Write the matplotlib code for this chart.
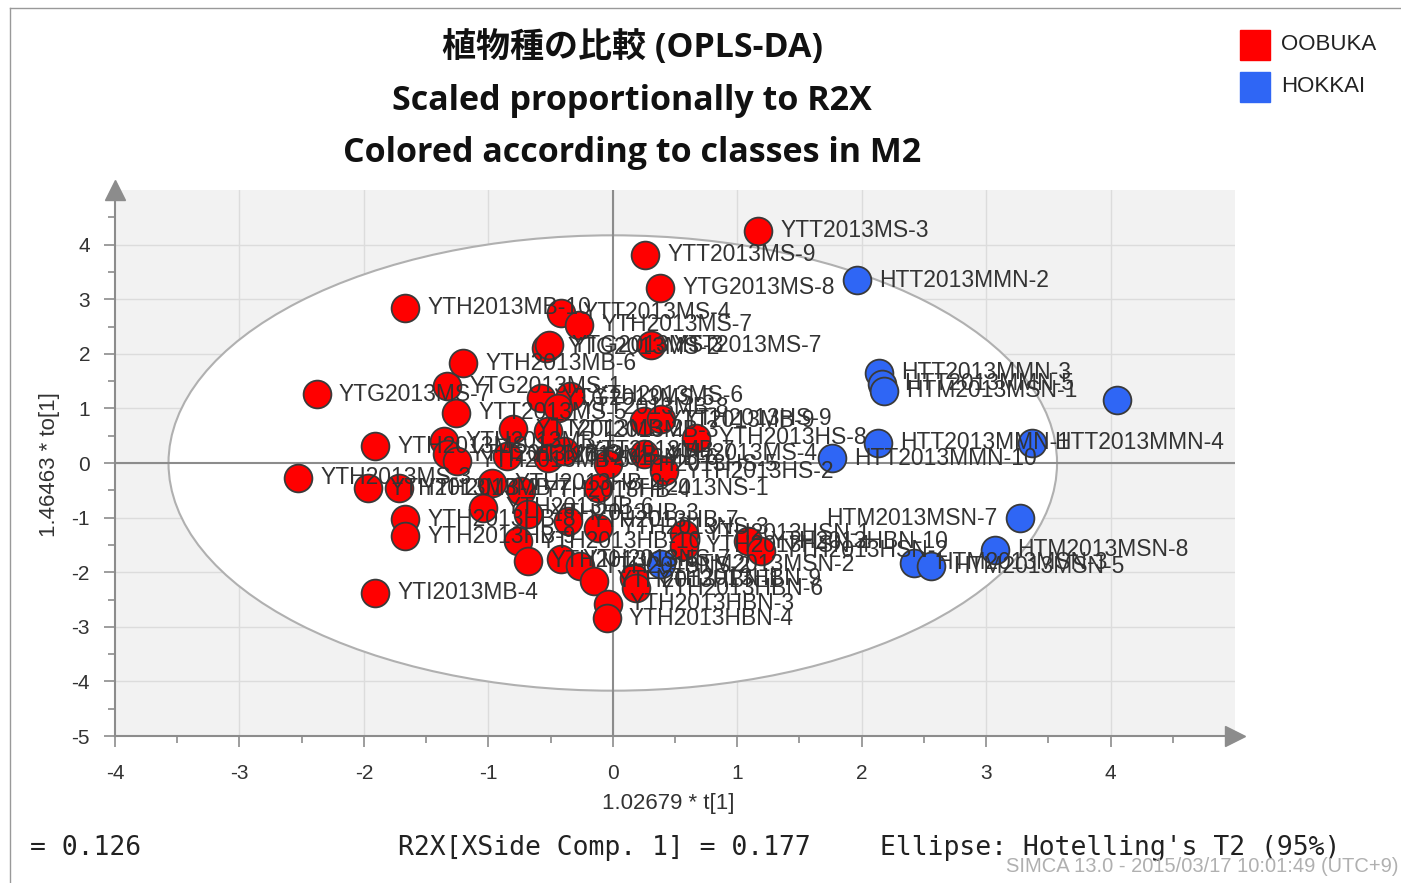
import numpy as np
import matplotlib.pyplot as plt
from matplotlib.patches import Ellipse, Rectangle

plt.rcParams['axes.unicode_minus'] = False

# OOBUKA (red) scores
oobuka_t = [1.17, 0.26, 0.38, -1.67, -0.42, -0.27, -0.54, -0.51, 0.31, -1.20,
            -2.38, -1.33, -0.58, -0.34, -0.44, -1.26, -0.80, -0.52, 0.25, 0.39,
            0.67, -1.91, -1.36, -1.33, -1.25, -0.85, -0.52, -0.39, 0.25, -0.04,
            0.41, -2.53, -1.97, -1.72, -0.97, -0.74, -0.12, -1.04, -1.67, -1.67,
            -0.68, -0.36, -0.12, -0.76, 0.57, 0.57, 1.09, 1.19, -0.68, -0.42,
            -0.26, -0.15, 0.17, 0.19, -1.91, -0.04, -0.05]
oobuka_to = [4.25, 3.81, 3.21, 2.84, 2.75, 2.53, 2.11, 2.16, 2.16, 1.83,
             1.26, 1.41, 1.19, 1.23, 1.01, 0.92, 0.62, 0.59, 0.77, 0.81,
             0.46, 0.31, 0.40, 0.16, 0.04, 0.13, 0.09, 0.22, 0.17, -0.02,
             -0.15, -0.27, -0.46, -0.46, -0.37, -0.51, -0.46, -0.82, -1.03, -1.34,
             -0.93, -1.06, -1.19, -1.43, -1.30, -1.52, -1.43, -1.61, -1.79, -1.76,
             -1.89, -2.16, -2.11, -2.29, -2.38, -2.58, -2.84]
oobuka_names = ['YTT2013MS-3', 'YTT2013MS-9', 'YTG2013MS-8', 'YTH2013MB-10', 'YTT2013MS-4',
                'YTH2013MS-7', 'YTG2013MS-2', 'YTG2013MS-3', 'YTT2013MS-7', 'YTH2013MB-6',
                'YTG2013MS-7', 'YTG2013MS-1', 'YTG2013MS-5', 'YTH2013MS-6', 'YTT2013MB-8',
                'YTT2013MS-5', 'YTT2013MB-2', 'YTT2013MB-3', 'YTT2013MB-9', 'YTH2013HS-9',
                'YTH2013HS-8', 'YTH2013MS-1', 'YTH2013MB-1', 'YTH2013MB-3', 'YTH2013MB-5',
                'YTT2013MB-4', 'YTT2013MB-6', 'YTT2013MB-7', 'YTH2013MS-4', 'YTH2013HS-5',
                'YTH2013HS-2', 'YTH2013MS-3', 'YTH2013MB-2', 'YTH2013MB-7', 'YTH2013HB-2',
                'YTH2013HB-4', 'YTH2013NS-1', 'YTH2013HB-6', 'YTH2013HB-8', 'YTH2013HB-9',
                'YTH2013HB-3', 'YTH2013HB-7', 'YTH2013NS-3', 'YTH2013HB-10', 'YTH2013HSN-1',
                'YTH2013HSN-4', 'YTH2013HBN-10', 'YTH2013HSN-2', 'YTH2013NS-5', 'YTH2013NS-7',
                'YTH2013NS-2', 'YTH2013HBN-1', 'YTH2013HBN-9', 'YTH2013HBN-6', 'YTI2013MB-4',
                'YTH2013HBN-3', 'YTH2013HBN-4']

# HOKKAI (blue) scores
hokkai_t = [1.96, 2.14, 2.16, 2.18, 4.05, 2.13, 3.37, 1.76, 3.27, 3.07, 2.42, 2.56, 0.39]
hokkai_to = [3.35, 1.65, 1.45, 1.32, 1.15, 0.37, 0.37, 0.09, -1.01, -1.59, -1.83, -1.89, -1.85]
hokkai_names = ['HTT2013MMN-2', 'HTT2013MMN-3', 'HTT2013MMN-5', 'HTM2013MSN-1', '',
                'HTT2013MMN-1', 'HTT2013MMN-4', 'HTT2013MMN-10', 'HTM2013MSN-7',
                'HTM2013MSN-8', 'HTM2013MSN-3', 'HTM2013MSN-5', 'HTM2013MSN-2']
left_labels = ['HTM2013MSN-7']

ellipse_a = 3.57
ellipse_b = 4.17

RED = '#ff0000'
BLUE = '#2f66f5'
TXT = '#333333'
LBL = 'Liberation Sans'

fig = plt.figure(figsize=(14.01, 8.83), dpi=100)
ax = fig.add_axes([115 / 1401, 1 - 736 / 883, 1120 / 1401, 546 / 883])
ax.set_facecolor('#f2f2f2')
ax.set_xlim(-4, 5)
ax.set_ylim(-5, 5)

ax.add_patch(Ellipse((0, 0), 2 * ellipse_a, 2 * ellipse_b, facecolor='white',
                     edgecolor='#b0b0b0', lw=1.5, zorder=1.2))
for v in range(-3, 5):
    ax.axvline(v, color='#dcdcdc', lw=1, zorder=1.1)
for v in range(-4, 5):
    ax.axhline(v, color='#dcdcdc', lw=1, zorder=1.1)
ax.axvline(0, color='#8c8c8c', lw=1.5, zorder=1.3)
ax.axhline(0, color='#8c8c8c', lw=1.5, zorder=1.3)

ax.scatter(oobuka_t, oobuka_to, s=400, c=RED, edgecolors='#3a3a3a', linewidths=1.3, zorder=3)
ax.scatter(hokkai_t, hokkai_to, s=400, c=BLUE, edgecolors='#3a3a3a', linewidths=1.3, zorder=3)

for t, to, name in list(zip(oobuka_t, oobuka_to, oobuka_names)) + list(zip(hokkai_t, hokkai_to, hokkai_names)):
    if not name:
        continue
    if name in left_labels:
        ax.annotate(name, (t, to), xytext=(-16, 0), textcoords='offset points', ha='right',
                    va='center', fontsize=16.5, family=LBL, color=TXT, zorder=4, clip_on=True)
    else:
        ax.annotate(name, (t, to), xytext=(16, 0), textcoords='offset points', ha='left',
                    va='center', fontsize=16.5, family=LBL, color=TXT, zorder=4, clip_on=True)

for s in ['top', 'right']:
    ax.spines[s].set_visible(False)
for s in ['left', 'bottom']:
    ax.spines[s].set_color('#8c8c8c')
    ax.spines[s].set_linewidth(1.5)
ax.plot([0], [1], marker='^', ms=14, color='#8c8c8c', transform=ax.transAxes, clip_on=False)
ax.plot([1], [0], marker='>', ms=14, color='#8c8c8c', transform=ax.transAxes, clip_on=False)

ax.set_xticks(np.arange(-4, 5))
ax.set_xticks(np.arange(-3.5, 5, 1), minor=True)
ax.set_yticks(np.arange(-5, 5))
ax.set_yticks(np.arange(-4.5, 5, 1), minor=True)
ax.tick_params(which='major', length=8, width=1.2, color='#8c8c8c', labelsize=15,
               labelcolor=TXT, labelfontfamily=LBL)
ax.tick_params(which='minor', length=5, width=1.2, color='#8c8c8c')
ax.tick_params(axis='x', which='major', pad=12)
ax.tick_params(axis='y', which='major', pad=10)

fig.text(668 / 1401, 1 - 803 / 883, '1.02679 * t[1]', ha='center', va='center',
         fontsize=16, family=LBL, color=TXT)
fig.text(50 / 1401, 1 - 465 / 883, '1.46463 * to[1]', ha='center', va='center',
         rotation=90, fontsize=16, family=LBL, color=TXT)

title_font = ['Open Sans', 'Noto Sans CJK JP', 'DejaVu Sans']
fig.text(632 / 1401, 1 - 48 / 883, '植物種の比較 (OPLS-DA)', ha='center', va='center',
         fontsize=24.5, fontweight='bold', family=title_font, color='#111111')
fig.text(632 / 1401, 1 - 101 / 883, 'Scaled proportionally to R2X', ha='center', va='center',
         fontsize=24.5, fontweight='bold', family=title_font, color='#111111')
fig.text(632 / 1401, 1 - 153 / 883, 'Colored according to classes in M2', ha='center',
         va='center', fontsize=24.5, fontweight='bold', family=title_font, color='#111111')

# legend
fig.patches.append(Rectangle((1240 / 1401, 1 - 60 / 883), 30 / 1401, 30 / 883,
                             transform=fig.transFigure, color=RED))
fig.patches.append(Rectangle((1240 / 1401, 1 - 102 / 883), 30 / 1401, 30 / 883,
                             transform=fig.transFigure, color=BLUE))
fig.text(1281 / 1401, 1 - 44 / 883, 'OOBUKA', ha='left', va='center', fontsize=16,
         family=LBL, color='#222222')
fig.text(1281 / 1401, 1 - 87 / 883, 'HOKKAI', ha='left', va='center', fontsize=16,
         family=LBL, color='#222222')

mono = 'DejaVu Sans Mono'
fig.text(30 / 1401, 1 - 848 / 883, '= 0.126', ha='left', va='center', fontsize=19,
         family=mono, color='#222222')
fig.text(398 / 1401, 1 - 848 / 883, 'R2X[XSide Comp. 1] = 0.177', ha='left', va='center',
         fontsize=19, family=mono, color='#222222')
fig.text(880 / 1401, 1 - 848 / 883, "Ellipse: Hotelling's T2 (95%)", ha='left', va='center',
         fontsize=19, family=mono, color='#222222')
fig.text(1398 / 1401, 1 - 866 / 883, 'SIMCA 13.0 - 2015/03/17 10:01:49 (UTC+9)', ha='right',
         va='center', fontsize=14.5, family=LBL, color='#b0b0b0')

# outer frame
fig.add_artist(plt.Line2D([10 / 1401, 10 / 1401], [0, 1 - 8 / 883], transform=fig.transFigure,
                          color='#999999', lw=1))
fig.add_artist(plt.Line2D([10 / 1401, 1], [1 - 8 / 883, 1 - 8 / 883], transform=fig.transFigure,
                          color='#999999', lw=1))

fig.savefig('out.png', dpi=100)
